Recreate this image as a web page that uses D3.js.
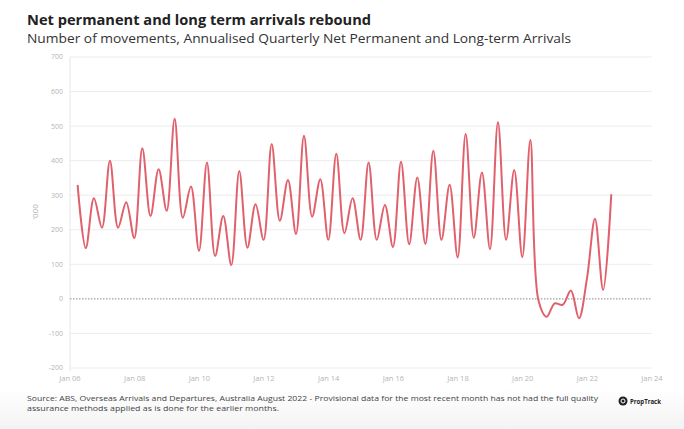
<!DOCTYPE html>
<html><head><meta charset="utf-8">
<script src="https://cdn.jsdelivr.net/npm/d3@7"></script>
<style>
body{margin:0;background:#fff;}
svg{display:block;font-family:"Open Sans","DejaVu Sans",sans-serif;}
</style></head>
<body><svg id="c" width="684" height="429"></svg>
<script>
// Quarterly series, first quarter Mar 2006, last Sep 2022 ('000)
const startQuarter = "2006-03";
const values = [330,147,291,206,400,206,280,176,436,240,375,255,521,235,325,139,
  395,124,240,98,370,148,274,171,448,226,344,188,472,238,346,171,420,190,291,171,
  395,171,272,150,397,158,351,159,429,171,330,120,477,177,366,144,511,171,373,121,
  460,-5,-52,-13,-17,24,-56,60,232,26,303];
const yTicks = [-200,-100,0,100,200,300,400,500,600,700];
const xTickYears = [2006,2008,2010,2012,2014,2016,2018,2020,2022,2024];
const title = "Net permanent and long term arrivals rebound";
const subtitle = "Number of movements, Annualised Quarterly Net Permanent and Long-term Arrivals";
const yLabel = "'000";
const source1 = "Source: ABS, Overseas Arrivals and Departures, Australia August 2022 - Provisional data for the most recent month has not had the full quality";
const source2 = "assurance methods applied as is done for the earlier months.";

const svg = d3.select("#c");
const t0 = d3.timeParse("%Y-%m")(startQuarter);
const dates = values.map((v,i)=> new Date(t0.getFullYear(), t0.getMonth()+3*i, 28));
const data = values.map((v,i)=>({d:dates[i], v}));

const x = d3.scaleTime().domain([new Date(2006,0,1), new Date(2024,0,1)]).range([70,652]);
const y = d3.scaleLinear().domain([-200,700]).range([368,57]);

// footer background
const defs = svg.append("defs");
const g1 = defs.append("linearGradient").attr("id","fg").attr("x1",0).attr("y1",0).attr("x2",0).attr("y2",1);
g1.append("stop").attr("offset","0").attr("stop-color","#ffffff");
g1.append("stop").attr("offset","1").attr("stop-color","#f3f3f3");
svg.append("rect").attr("x",0).attr("y",388).attr("width",684).attr("height",41).attr("fill","url(#fg)");

// gridlines
svg.append("g").selectAll("line").data(yTicks.filter(d=>d!==0)).join("line")
  .attr("x1",70).attr("x2",652).attr("y1",d=>y(d)).attr("y2",d=>y(d))
  .attr("stroke","#ececec").attr("stroke-width",1);
// y axis line
svg.append("line").attr("x1",70).attr("x2",70).attr("y1",y(700)).attr("y2",y(-200)+3)
  .attr("stroke","#e6e6e6");
// zero line
svg.append("line").attr("x1",70).attr("x2",652).attr("y1",y(0)).attr("y2",y(0))
  .attr("stroke","#888").attr("stroke-width",1).attr("stroke-dasharray","1.5,1.5");

// y tick labels
svg.append("g").selectAll("text").data(yTicks).join("text")
  .attr("x",63).attr("y",d=>y(d)).attr("dy","0.35em").attr("text-anchor","end")
  .attr("font-size",7).attr("fill","#b5b5b5").text(d=>d);
// x tick labels
svg.append("g").selectAll("text").data(xTickYears).join("text")
  .attr("x",d=>x(new Date(d,0,1))).attr("y",381).attr("text-anchor","middle")
  .attr("font-size",7.5).attr("fill","#b5b5b5").text(d=>"Jan "+String(d).slice(2));
// y label
svg.append("text").attr("transform","translate(35,212) rotate(-90)").attr("text-anchor","middle")
  .attr("dy","0.35em").attr("font-size",8).attr("fill","#aaa").text(yLabel);

// line
const line = d3.line().x(d=>x(d.d)).y(d=>y(d.v)).curve(d3.curveCatmullRom.alpha(0.5));
svg.append("path").datum(data).attr("d",line).attr("fill","none")
  .attr("stroke","#e0606c").attr("stroke-width",2).attr("stroke-linejoin","round");

// titles
svg.append("text").attr("x",27).attr("y",25).attr("font-size",15).attr("font-weight","bold")
  .attr("fill","#222").attr("textLength",344).attr("lengthAdjust","spacingAndGlyphs").text(title);
svg.append("text").attr("x",27).attr("y",43).attr("font-size",13)
  .attr("fill","#333").attr("textLength",544).attr("lengthAdjust","spacingAndGlyphs").text(subtitle);

// source
svg.append("text").attr("x",27).attr("y",401).attr("font-size",8).attr("fill","#444")
  .attr("textLength",571).attr("lengthAdjust","spacingAndGlyphs").text(source1);
svg.append("text").attr("x",27).attr("y",411).attr("font-size",8).attr("fill","#444")
  .attr("textLength",252).attr("lengthAdjust","spacingAndGlyphs").text(source2);

// logo
svg.append("circle").attr("cx",623).attr("cy",401).attr("r",4.5).attr("fill","#222");
svg.append("circle").attr("cx",623).attr("cy",401).attr("r",2).attr("fill","none").attr("stroke","#fff").attr("stroke-width",1);
svg.append("text").attr("x",630).attr("y",403.5).attr("font-size",7).attr("font-weight","bold")
  .attr("fill","#222").attr("textLength",31).attr("lengthAdjust","spacingAndGlyphs").text("PropTrack");
</script></body></html>
